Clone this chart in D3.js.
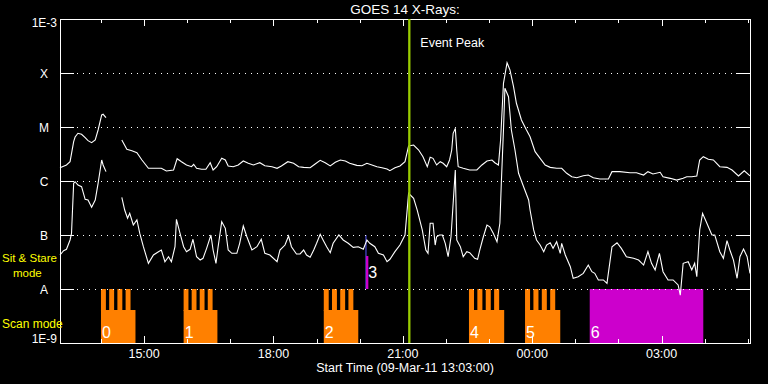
<!DOCTYPE html>
<html lang="en">
<head>
<meta charset="UTF-8">
<title>GOES 14 X-Rays</title>
<script src="https://cdnjs.cloudflare.com/ajax/libs/d3/7.8.5/d3.min.js"></script>
<style>
body { margin: 0; background: #000; }
svg { display: block; font-family: "Liberation Sans", Arial, sans-serif; }
text { fill: #fff; }
.yellow { fill: #ffff00; }
</style>
</head>
<body>
<svg id="chart" width="768" height="384"></svg>
<script>

// times are minutes after the start time (09-Mar-11 13:03:00 UT), flux in W/m^2
var longMin = [0, 9, 14, 19, 21, 25, 30, 35, 39, 44, 49, 53, 58, 60, 64,
  75,
  86, 93, 100, 107, 114, 123, 132, 141, 148, 158, 163, 169, 176, 183, 186, 190, 197, 203, 209, 213,
  218, 225, 230, 234, 241, 248, 255, 262, 269, 278, 285, 295, 302, 308, 317, 325, 332,
  339, 348, 355, 362, 369, 376, 383, 390, 397, 403, 413, 420, 427, 434, 441, 448, 455, 459, 466, 473,
  480, 485, 492, 499, 505, 511, 515, 519, 524, 529, 533, 538, 542, 545, 547, 550, 552, 554, 561, 570,
  580, 587, 594, 601, 605, 610, 613, 617, 622, 626, 631, 635, 642, 649, 654,
  661, 668, 675, 682, 691, 698, 705, 712, 719, 728, 735, 742, 751, 763, 768, 779, 793, 802, 812, 818,
  825, 835, 839, 849, 858, 867, 872, 879, 886, 890, 895, 902, 909, 918, 928, 935, 944, 952, 960];

var longFlux = [1.76e-6, 1.98e-6, 2.28e-6, 5.34e-6, 6.52e-6, 7.65e-6, 7.33e-6, 6.33e-6, 5.58e-6, 5.12e-6, 5.74e-6, 8.8e-6, 1.67e-5, 1.72e-5, 1.49e-5,
  null,
  5.74e-6, 3.86e-6, 3.64e-6, 3.34e-6, 2.45e-6, 1.72e-6, 1.72e-6, 1.72e-6, 1.53e-6, 1.6e-6, 2.59e-6, 2.28e-6, 1.98e-6, 1.84e-6, 2.04e-6, 1.72e-6, 1.65e-6, 1.65e-6, 2.18e-6, 1.6e-6,
  1.84e-6, 2.63e-6, 2.45e-6, 1.9e-6, 1.84e-6, 1.98e-6, 2.35e-6, 2.13e-6, 1.98e-6, 2.18e-6, 1.92e-6, 1.84e-6, 1.72e-6, 1.9e-6, 2.28e-6, 2.13e-6, 1.84e-6,
  1.79e-6, 1.76e-6, 2.07e-6, 2.42e-6, 2.18e-6, 1.9e-6, 2.22e-6, 2.45e-6, 2.35e-6, 2.13e-6, 1.95e-6, 1.92e-6, 2.13e-6, 1.98e-6, 1.84e-6, 1.76e-6, 1.67e-6, 1.55e-6, 1.76e-6, 1.9e-6,
  2.28e-6, 4.45e-6, 4.64e-6, 3.75e-6, 2.82e-6, 1.84e-6, 2.75e-6, 2.63e-6, 1.98e-6, 2.28e-6, 2.13e-6, 1.84e-6, 2.45e-6, 3.75e-6, 7.65e-6, 9.44e-6, 3.75e-6, 1.84e-6, 1.72e-6, 1.6e-6,
  1.6e-6, 1.98e-6, 2.35e-6, 2.45e-6, 2.18e-6, 1.98e-6, 5.74e-6, 6.43e-5, 1.55e-4, 1.14e-4, 5.58e-5, 2.75e-5, 1.35e-5, 8.8e-6, 6.6e-6,
  3.49e-6, 2.63e-6, 1.98e-6, 1.79e-6, 1.72e-6, 1.72e-6, 1.39e-6, 1.2e-6, 1.15e-6, 1.25e-6, 1.29e-6, 1.15e-6, 1.09e-6, 1.09e-6, 1.49e-6, 1.49e-6, 1.42e-6, 1.42e-6, 1.29e-6, 1.49e-6,
  1.35e-6, 1.45e-6, 1.2e-6, 1.12e-6, 1.04e-6, 1.12e-6, 1.2e-6, 1.2e-6, 1.24e-6, 2.45e-6, 2.82e-6, 2.52e-6, 2.45e-6, 1.84e-6, 1.79e-6, 1.6e-6, 1.24e-6, 1.55e-6, 1.24e-6];

var shortMin = [0, 5, 9, 14, 16, 19, 21, 25, 30, 35, 39, 44, 49, 53, 58, 60, 64,
  75,
  86, 90, 94, 97, 102, 107, 111, 116, 123, 130, 137, 141, 146, 151, 155, 160, 162, 167, 172, 176,
  181, 185, 190, 195, 199, 204, 210, 213, 217, 220, 225, 230, 234, 239, 246, 250, 255, 260, 267, 274,
  280, 285, 292, 302, 306, 313, 318, 322, 329, 334,
  339, 343, 348, 353, 357, 362, 366, 371, 376, 380, 388, 394, 401, 408, 415, 422, 427, 431, 438, 443,
  450, 455, 459, 466, 473, 480, 485, 492, 497, 504, 509, 512, 515, 519, 522, 524, 528, 532, 536, 540,
  544, 547, 550, 552, 557, 561, 566, 570, 577, 581, 584, 589, 594, 598, 603, 608, 612, 614, 617, 619,
  624, 628, 633, 638, 645, 652,
  654, 659, 663, 668, 673, 677, 682, 686, 691, 696, 698, 703, 710, 714, 721, 728, 735, 740, 744, 749,
  756, 761, 768, 775, 781, 788, 798, 805, 812, 818, 823, 828, 834, 839, 846, 853, 860, 863, 867, 874,
  879, 883, 886, 890, 894, 900, 907, 911, 918, 923, 928, 932, 937, 942, 946, 951, 956, 960];

var shortFlux = [4.26e-8, 5.12e-8, 5.43e-8, 8.09e-8, 1.07e-7, 9.06e-7, 9.7e-7, 8.42e-7, 7.84e-7, 4.58e-7, 4.45e-7, 3.26e-7, 4.45e-7, 9.06e-7, 2.45e-6, 1.98e-6, 1.49e-6,
  null,
  4.99e-7, 2.9e-7, 2.04e-7, 2.52e-7, 1.53e-7, 1.9e-7, 1.07e-7, 6.07e-8, 2.99e-8, 4.26e-8, 4.91e-8, 5.27e-8, 3.2e-8, 3.96e-8, 3.2e-8, 6.07e-8, 1.95e-7, 1.07e-7, 6.07e-8, 4.91e-8,
  5.43e-8, 8.34e-8, 3.96e-8, 3.44e-8, 3.7e-8, 5.66e-8, 1e-7, 5.27e-8, 2.99e-8, 6.07e-8, 1.76e-7, 1.33e-7, 5.27e-8, 4.58e-8, 4.58e-8, 7.02e-8, 1.47e-7, 9.28e-8, 5.27e-8, 6.07e-8,
  8.34e-8, 4.58e-8, 4.26e-8, 3.2e-8, 5.27e-8, 6.52e-8, 9.58e-8, 6.07e-8, 4.45e-8, 4.45e-8,
  5.27e-8, 4.26e-8, 3.86e-8, 5.27e-8, 7.02e-8, 1.03e-7, 8.09e-8, 6.07e-8, 4.7e-8, 7.02e-8, 1e-7, 8.09e-8, 7.02e-8, 5.91e-8, 6.07e-8, 5.43e-8, 8.09e-8, 7.02e-8, 6.07e-8, 4.58e-8,
  4.26e-8, 3.2e-8, 3.55e-8, 4.91e-8, 6.52e-8, 1e-7, 5.91e-7, 4.78e-7, 2.9e-7, 1.24e-7, 5.27e-8, 4.58e-8, 1.65e-7, 1.65e-7, 6.52e-8, 9.28e-8, 1e-7, 1e-7, 7.02e-8, 3.96e-8,
  9.28e-8, 3.86e-7, 1.6e-6, 8.09e-8, 6.07e-8, 3.96e-8, 4.91e-8, 4.7e-8, 3.7e-8, 3.55e-8, 5.27e-8, 9.28e-8, 1.53e-7, 1.42e-7, 1.07e-7, 7.51e-8, 1.65e-7, 9.06e-7, 8.8e-6, 5.2e-5,
  3.64e-5, 8.8e-6, 3.75e-6, 1.39e-6, 7.84e-7, 4.45e-7,
  2.9e-7, 1.24e-7, 8.09e-8, 6.52e-8, 4.91e-8, 6.52e-8, 7.2e-8, 5.66e-8, 7.51e-8, 4.58e-8, 7.02e-8, 4.26e-8, 2.59e-8, 1.58e-8, 1.69e-8, 1.95e-8, 2.78e-8, 2.09e-8, 1.95e-8, 1.47e-8,
  1.47e-8, 1.27e-8, 6.07e-8, 7.2e-8, 5.66e-8, 3.96e-8, 3.7e-8, 3.44e-8, 2.78e-8, 4.91e-8, 2.99e-8, 2.25e-8, 4.58e-8, 2.09e-8, 1.47e-8, 1.47e-8, 1.19e-8, 7.7e-9, 2.99e-8, 3.2e-8,
  2.25e-8, 2.99e-8, 1.69e-8, 1.24e-7, 2.52e-7, 1.65e-7, 1e-7, 1e-7, 4.91e-8, 3.7e-8, 7.84e-8, 5.27e-8, 3.44e-8, 1.58e-8, 3.96e-8, 5.5e-8, 3.96e-8, 1.95e-8];

// flare classes on the left axis
var classNames = ["A", "B", "C", "M", "X"];
var classFlux = [1e-8, 1e-7, 1e-6, 1e-5, 1e-4];

// observing blocks (minutes after start)
var blockLabels = ["0", "1", "2", "4", "5", "6"];
var blockStart = [57, 172, 367, 569, 647, 737];
var blockEnd = [105, 219, 415, 618, 696, 895];
var blockKind = ["scan", "scan", "scan", "scan", "scan", "fill"];

var stareLabels = ["3"];
var stareStart = [425];
var stareEnd = [429];

var eventPeak = 486;

var start = Date.UTC(2011, 2, 9, 13, 3);
function toDate(m) { return new Date(start + m * 60000); }

var svg = d3.select("#chart");

svg.append("rect")
    .attr("width", 768)
    .attr("height", 384)
    .attr("fill", "#000");

var x = d3.scaleUtc()
    .domain([toDate(0), toDate(960)])
    .range([60, 750]);

var y = d3.scaleLog()
    .domain([1e-9, 1e-3])
    .range([343, 19]);

var bandTop = y(1e-8), bandBottom = y(1e-9), notch = 21;

// ---- observing blocks
blockLabels.forEach(function(lab, i) {
  var x0 = x(toDate(blockStart[i])), x1 = x(toDate(blockEnd[i]));
  var w = x1 - x0;
  var g = svg.append("g");
  if (blockKind[i] == "fill") {
    g.append("rect")
      .attr("x", x0).attr("y", bandTop)
      .attr("width", w).attr("height", bandBottom - bandTop)
      .attr("fill", "#cc00cc");
  } else {
    g.append("rect")
      .attr("x", x0).attr("y", bandTop + notch)
      .attr("width", w).attr("height", bandBottom - bandTop - notch)
      .attr("fill", "#ff8000");
    var p = w / 4.2;
    d3.range(4).forEach(function(k) {
      g.append("rect")
        .attr("x", x0 + k * p).attr("y", bandTop)
        .attr("width", p * 0.6).attr("height", notch + 1)
        .attr("fill", "#ff8000");
    });
  }
  g.append("text")
    .attr("x", x0 + 1)
    .attr("y", 338)
    .style("font-size", "16px")
    .text(lab);
});

stareLabels.forEach(function(lab, i) {
  var x0 = x(toDate(stareStart[i])), x1 = x(toDate(stareEnd[i]));
  svg.append("line")
    .attr("x1", x0 + 0.5).attr("x2", x0 + 0.5)
    .attr("y1", y(1e-7)).attr("y2", bandTop)
    .attr("stroke", "#5a5aff");
  svg.append("rect")
    .attr("x", x0 + 0.5).attr("y", y(1e-7) + notch)
    .attr("width", x1 - x0 - 0.5).attr("height", bandTop - y(1e-7) - notch)
    .attr("fill", "#cc00cc");
  svg.append("text")
    .attr("x", x1)
    .attr("y", 278)
    .style("font-size", "16px")
    .text(lab);
});

// ---- dotted class lines and side ticks
var grid = svg.append("g").attr("shape-rendering", "crispEdges");
grid.selectAll(".dots")
    .data(classFlux).enter()
    .append("line")
    .attr("x1", 77).attr("x2", 736)
    .attr("y1", function(d) { return Math.round(y(d)) + 0.5; })
    .attr("y2", function(d) { return Math.round(y(d)) + 0.5; })
    .attr("stroke", "#fff")
    .attr("stroke-dasharray", "1,5");
grid.selectAll(".ltick")
    .data(classFlux).enter()
    .append("line")
    .attr("x1", 60).attr("x2", 74)
    .attr("y1", function(d) { return Math.round(y(d)) + 0.5; })
    .attr("y2", function(d) { return Math.round(y(d)) + 0.5; })
    .attr("stroke", "#fff");
grid.selectAll(".rtick")
    .data(classFlux).enter()
    .append("line")
    .attr("x1", 736).attr("x2", 750)
    .attr("y1", function(d) { return Math.round(y(d)) + 0.5; })
    .attr("y2", function(d) { return Math.round(y(d)) + 0.5; })
    .attr("stroke", "#fff");

// ---- light curves
var line = d3.line()
    .defined(function(d) { return d[1] != null; })
    .x(function(d) { return x(toDate(d[0])); })
    .y(function(d) { return y(d[1]); });

svg.append("path")
    .datum(d3.zip(longMin, longFlux))
    .attr("d", line)
    .attr("fill", "none")
    .attr("stroke", "#fff")
    .attr("stroke-width", 1.1);

svg.append("path")
    .datum(d3.zip(shortMin, shortFlux))
    .attr("d", line)
    .attr("fill", "none")
    .attr("stroke", "#fff")
    .attr("stroke-width", 1.1);

// ---- frame and time ticks
svg.append("rect")
    .attr("x", 60.5).attr("y", 19.5)
    .attr("width", 690).attr("height", 324)
    .attr("fill", "none")
    .attr("stroke", "#fff")
    .attr("shape-rendering", "crispEdges");

var hours = d3.utcHour.range(toDate(1), toDate(960));
var fmt = d3.utcFormat("%H:%M");
function isMajor(d) { return d.getUTCHours() % 3 == 0; }

var ticks = svg.append("g").attr("shape-rendering", "crispEdges");
ticks.selectAll(".bt")
    .data(hours).enter()
    .append("line")
    .attr("x1", function(d) { return Math.round(x(d)) + 0.5; })
    .attr("x2", function(d) { return Math.round(x(d)) + 0.5; })
    .attr("y1", 343)
    .attr("y2", function(d) { return isMajor(d) ? 336 : 339; })
    .attr("stroke", "#fff");
ticks.selectAll(".tt")
    .data(hours).enter()
    .append("line")
    .attr("x1", function(d) { return Math.round(x(d)) + 0.5; })
    .attr("x2", function(d) { return Math.round(x(d)) + 0.5; })
    .attr("y1", 19)
    .attr("y2", function(d) { return isMajor(d) ? 26 : 23; })
    .attr("stroke", "#fff");

svg.selectAll(".xlab")
    .data(hours.filter(isMajor)).enter()
    .append("text")
    .attr("x", function(d) { return x(d); })
    .attr("y", 358)
    .attr("text-anchor", "middle")
    .style("font-size", "12.5px")
    .text(function(d) { return fmt(d); });

// ---- event peak
var xp = x(toDate(eventPeak));
svg.append("line")
    .attr("x1", xp).attr("x2", xp)
    .attr("y1", 19).attr("y2", 343)
    .attr("stroke", "#99cc00")
    .attr("stroke-width", 2.3);
svg.append("text")
    .attr("x", xp + 11)
    .attr("y", 47)
    .style("font-size", "12.5px")
    .text("Event Peak");

// ---- y labels
svg.selectAll(".ylab")
    .data(classNames).enter()
    .append("text")
    .attr("x", 44)
    .attr("y", function(d, i) { return y(classFlux[i]) + 4.5; })
    .attr("text-anchor", "middle")
    .style("font-size", "12px")
    .text(function(d) { return d; });
svg.append("text")
    .attr("x", 57).attr("y", 27)
    .attr("text-anchor", "end")
    .style("font-size", "12px")
    .text("1E-3");
svg.append("text")
    .attr("x", 57).attr("y", 343)
    .attr("text-anchor", "end")
    .style("font-size", "12px")
    .text("1E-9");

svg.append("text").attr("class", "yellow").attr("x", 2).attr("y", 262).style("font-size", "11.5px").text("Sit & Stare");
svg.append("text").attr("class", "yellow").attr("x", 13).attr("y", 276.5).style("font-size", "11.5px").text("mode");
svg.append("text").attr("class", "yellow").attr("x", 2).attr("y", 328).style("font-size", "12px").text("Scan mode");

// ---- title and footer
svg.append("text")
    .attr("x", 405).attr("y", 14)
    .attr("text-anchor", "middle")
    .style("font-size", "13.5px")
    .text("GOES 14 X-Rays:");
svg.append("text")
    .attr("x", 405).attr("y", 372)
    .attr("text-anchor", "middle")
    .style("font-size", "12.5px")
    .text("Start Time (" + d3.utcFormat("%d-%b-%y %H:%M:%S")(toDate(0)) + ")");

</script>
</body>
</html>
